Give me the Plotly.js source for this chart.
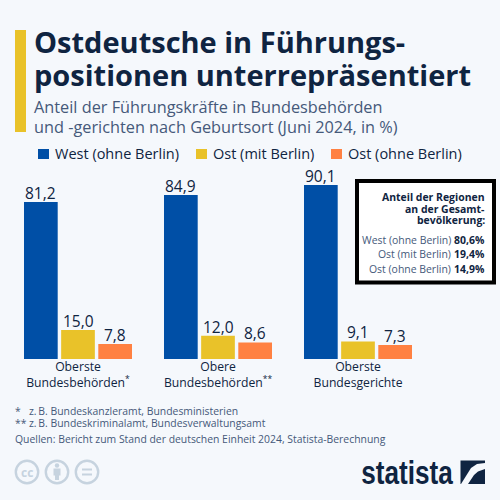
<!DOCTYPE html>
<html><head><meta charset="utf-8">
<script src="https://cdn.plot.ly/plotly-3.0.1.min.js"></script>
<style>html,body{margin:0;padding:0;background:#f5f8fc}</style></head>
<body><div id="chart" style="width:500px;height:500px"></div>
<script>
const categories = ["Oberste<br>Bundesbehörden<sup>*</sup>", "Obere<br>Bundesbehörden<sup>**</sup>", "Oberste<br>Bundesgerichte"];
const seriesNames = ["West (ohne Berlin)", "Ost (mit Berlin)", "Ost (ohne Berlin)"];
const west = [81.2, 84.9, 90.1];
const ostMit = [15.0, 12.0, 9.1];
const ostOhne = [7.8, 8.6, 7.3];
const colors = ["#004fa6", "#e9c229", "#ff8142"];
const popNames = ["West (ohne Berlin)", "Ost (mit Berlin)", "Ost (ohne Berlin)"];
const popShares = ["80,6%", "19,4%", "14,9%"];
const titleLines = ["Ostdeutsche in Führungs-", "positionen unterrepräsentiert"];
const subtitleLines = ["Anteil der Führungskräfte in Bundesbehörden", "und -gerichten nach Geburtsort (Juni 2024, in %)"];

const DARK = "#0f2441", GREY = "#45597a", FONT = "Open Sans";
const BASE = 359, PX = 1.932, GROUP = 140, STEP = 37.15;
const px = x => x / 500;
const py = y => (BASE - y) / BASE;
const fmt = v => v.toFixed(1).replace(".", ",");

const ann = [], shapes = [];
const allSeries = [west, ostMit, ostOhne];
const traces = allSeries.map((vals, i) => ({
  type: "bar", name: seriesNames[i], x: [0, 1, 2], y: vals,
  marker: {color: colors[i]}, cliponaxis: false, hoverinfo: "skip"
}));
// value labels sit tight on the bars
allSeries.forEach((vals, s) => vals.forEach((v, g) => {
  ann.push({xref: "x", yref: "y", x: g + (s - 1) * STEP / GROUP, y: v, text: fmt(v), showarrow: false,
    xanchor: "center", yanchor: "bottom", yshift: -3, borderpad: 0,
    font: {family: FONT, size: 15.5, color: DARK}});
}));

function label(x, y, text, size, color, anchor, bold) {
  ann.push({xref: "paper", yref: "paper", x: px(x), y: py(y), text: bold ? "<b>" + text + "</b>" : text,
    showarrow: false, xanchor: anchor || "left", yanchor: "middle", align: anchor || "left",
    font: {family: FONT, size: size, color: color}, borderpad: 0, borderwidth: 0});
}
function rect(x0, y0, x1, y1, fill, line, lw) {
  shapes.push({type: "rect", xref: "paper", yref: "paper", x0: px(x0), x1: px(x1), y0: py(y0), y1: py(y1),
    fillcolor: fill, line: {color: line || fill, width: lw || 0}, layer: "above"});
}
function circle(cx, cy, r, fill, line, lw) {
  shapes.push({type: "circle", xref: "paper", yref: "paper", x0: px(cx - r), x1: px(cx + r), y0: py(cy - r), y1: py(cy + r),
    fillcolor: fill, line: {color: line || fill, width: lw || 0}, layer: "above"});
}
function poly(points, fill) {
  const path = "M" + points.map(p => px(p[0]) + "," + py(p[1])).join("L") + "Z";
  shapes.push({type: "path", xref: "paper", yref: "paper", path: path, fillcolor: fill, line: {width: 0}, layer: "above"});
}

// header
rect(15, 30, 26, 132, "#e9c229");
label(34, 41, titleLines[0], 29, DARK, "left", true);
label(34, 74, titleLines[1], 29, DARK, "left", true);
label(34, 107, subtitleLines[0], 16.3, GREY);
label(34, 127, subtitleLines[1], 16.3, GREY);

// legend
[[38, 55], [196, 213], [331, 348]].forEach((p, i) => {
  rect(p[0], 149, p[0] + 11, 159, colors[i]);
  label(p[1], 153.5, seriesNames[i], 14.5, DARK);
});

// population box
rect(357, 181, 494, 282.5, "#ffffff", "#000000", 4);
label(485, 197, "Anteil der Regionen", 10.45, DARK, "right", true);
label(485, 208.5, "an der Gesamt-", 10.45, DARK, "right", true);
label(485, 220, "bevölkerung:", 10.45, DARK, "right", true);
popNames.forEach((n, i) => {
  label(451, 240 + i * 14.5, n, 10.45, GREY, "right");
  label(485, 240 + i * 14.5, popShares[i], 10.45, DARK, "right", true);
});

// footnotes
label(15, 411, "*", 10.4, GREY);
label(29, 411, "z.\u2009B. Bundeskanzleramt, Bundesministerien", 10.4, GREY);
label(15, 423, "**", 10.4, GREY);
label(29, 423, "z.\u2009B. Bundeskriminalamt, Bundesverwaltungsamt", 10.4, GREY);
label(15, 439, "Quellen: Bericht zum Stand der deutschen Einheit 2024, Statista-Berechnung", 10.4, GREY);

// licence icons
const IC = "#c6d3df";
[27, 57, 87].forEach(c => circle(c, 472, 11.2, "rgba(0,0,0,0)", IC, 2.4));
label(27, 472, "cc", 12, IC, "center", true);
circle(57, 465.5, 2.2, IC);
rect(53.5, 468.5, 60.5, 475.5, IC);
rect(55, 475, 59, 480, IC);
rect(82, 468.5, 92, 470.5, IC);
rect(82, 473.5, 92, 475.5, IC);

// logo
ann.push({xref: "paper", yref: "paper", x: px(454), y: py(472), text: "<b>statista</b>", showarrow: false,
  xanchor: "right", yanchor: "middle", borderpad: 0, font: {family: "Liberation Sans", size: 33, color: DARK}});
rect(460.5, 460.5, 485, 484, DARK);
poly([[461, 484], [468, 484], [474, 475], [478, 471.5], [485, 469], [485, 463], [477, 464], [471, 468], [466, 476]], "#f5f8fc");

const layout = {
  width: 500, height: 500, autosize: false,
  paper_bgcolor: "#f5f8fc", plot_bgcolor: "rgba(0,0,0,0)",
  margin: {l: 0, r: 0, t: 0, b: 141, pad: 0},
  barmode: "group", bargap: 1 - 3 * STEP / GROUP, bargroupgap: 0.093,
  showlegend: false,
  font: {family: FONT, color: DARK},
  xaxis: {range: [-78 / GROUP, 422 / GROUP], tickmode: "array", tickvals: [0, 1, 2], ticktext: categories,
    showgrid: false, zeroline: false, showline: false, ticks: "", fixedrange: true,
    tickangle: 0, automargin: false, ticklabelstandoff: -1, tickfont: {family: FONT, size: 12.2, color: DARK}},
  yaxis: {range: [0, BASE / PX], visible: false, fixedrange: true, automargin: false},
  shapes: shapes, annotations: ann
};
Plotly.newPlot("chart", traces, layout, {displayModeBar: false, staticPlot: true}).then(() => {
  // the wordmark is a condensed face: squeeze it horizontally around its right edge
  document.querySelectorAll(".annotation-text").forEach(t => {
    if (t.textContent === "statista") {
      const b = t.getBBox(), r = b.x + b.width, k = 92 / b.width;
      t.setAttribute("transform", "translate(" + r + ",0) scale(" + k + ",1) translate(" + (-r) + ",0)");
    }
  });
});
</script></body></html>
